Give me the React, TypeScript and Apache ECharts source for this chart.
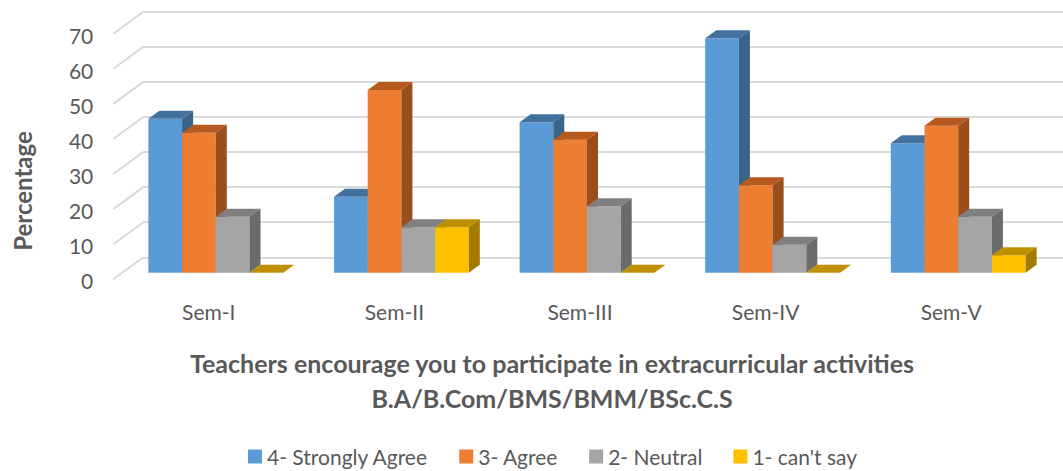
import React, { useEffect, useRef } from "react";
import * as echarts from "echarts";

// ---- data ----
const categories = ["Sem-I", "Sem-II", "Sem-III", "Sem-IV", "Sem-V"];
const stronglyAgree = [44, 21.7, 43, 67, 37];
const agree = [40, 52.2, 38, 25, 42];
const neutral = [16, 13, 19, 8, 16];
const cantSay = [0, 13, 0, 0, 5];
const seriesNames = ["4- Strongly Agree", "3- Agree", "2- Neutral", "1- can't say"];
const seriesValues = [stronglyAgree, agree, neutral, cantSay];
const yTicks = [0, 10, 20, 30, 40, 50, 60, 70];
const titleLines = [
  "Teachers encourage you to participate in extracurricular activities",
  "B.A/B.Com/BMS/BMM/BSc.C.S",
];
const yAxisTitle = "Percentage";

// ---- styles ----
const FRONT = ["#5B9BD5", "#ED7D31", "#A5A5A5", "#FFC000"];
const TOP = ["#41719C", "#B65A1F", "#7F7F7F", "#BF9000"];
const SIDE = ["#3A6489", "#9A4E1C", "#6B6B6B", "#A37B00"];
const TEXT = "#595959";
const GRID_LINE = "#D9D9D9";
const FONT = "Lato, 'Open Sans', sans-serif";
const DX = 11;
const DY = -8;
const BAR_FRAC = 0.1816;

export default function App() {
  const ref = useRef<HTMLDivElement>(null);
  useEffect(() => {
    if (!ref.current) return;
    const chart = echarts.init(ref.current, undefined, { renderer: "svg" });

    const barSeries = seriesValues.map((vals, k) => ({
      type: "custom",
      name: seriesNames[k],
      xAxisIndex: 0,
      yAxisIndex: 0,
      itemStyle: { color: FRONT[k] },
      encode: { x: 0, y: 1 },
      data: vals.map((v, i) => [i, v]),
      renderItem: (params: any, api: any) => {
        const ci = api.value(0);
        const v = api.value(1);
        const base = api.coord([ci, 0]);
        const top = api.coord([ci, v]);
        const band = api.size([1, 0])[0];
        const w = band * BAR_FRAC;
        const x = base[0] - 2 * w + k * w;
        const y0 = base[1];
        const y1 = top[1];
        return {
          type: "group",
          children: [
            {
              type: "rect",
              z2: k,
              shape: { x, y: y1, width: w, height: y0 - y1 },
              style: { fill: FRONT[k] },
            },
            {
              type: "polygon",
              z2: k,
              shape: { points: [[x, y1], [x + w, y1], [x + w + DX, y1 + DY], [x + DX, y1 + DY]] },
              style: { fill: TOP[k] },
            },
            {
              type: "polygon",
              z2: k,
              shape: { points: [[x + w, y1], [x + w + DX, y1 + DY], [x + w + DX, y0 + DY], [x + w, y0]] },
              style: { fill: SIDE[k] },
            },
          ],
        };
      },
    }));

    const option: any = {
      animation: false,
      color: FRONT,
      title: {
        text: titleLines.join("\n"),
        left: 552,
        top: 345,
        textAlign: "center",
        textVerticalAlign: "top",
        padding: 0,
        textStyle: {
          fontFamily: FONT,
          fontWeight: "bold",
          fontSize: 25,
          color: TEXT,
          lineHeight: 35,
        },
      },
      legend: {
        data: seriesNames,
        left: 248,
        top: 446,
        padding: 0,
        icon: "rect",
        itemWidth: 14,
        itemHeight: 14,
        itemGap: 31,
        textStyle: { fontFamily: FONT, fontSize: 21, color: TEXT },
      },
      grid: [
        { left: 123, right: 12, top: 27.7, height: 245 },
        { left: 143.3, right: 0, top: 11.7, height: 245.6 },
        { left: 113.3, width: 1, top: 35.8, height: 244.7 },
        { left: 116, right: 19, top: 271.7, height: 1 },
      ],
      xAxis: [
        { type: "category", data: categories, gridIndex: 0, show: false },
        { type: "value", min: 0, max: 1, gridIndex: 1, show: false },
        { type: "value", min: 0, max: 1, gridIndex: 2, show: false },
        {
          type: "category",
          data: categories,
          gridIndex: 3,
          axisLine: { show: false },
          axisTick: { show: false },
          splitLine: { show: false },
          axisLabel: { margin: 28, fontFamily: FONT, fontSize: 21, color: TEXT },
        },
      ],
      yAxis: [
        { type: "value", min: 0, max: 70, gridIndex: 0, show: false },
        {
          type: "value",
          min: 0,
          max: 70,
          interval: 10,
          gridIndex: 1,
          axisLine: { show: false },
          axisTick: { show: false },
          axisLabel: { show: false },
          splitLine: { show: true, lineStyle: { color: GRID_LINE, width: 2 } },
        },
        {
          type: "value",
          min: 0,
          max: 70,
          interval: 10,
          gridIndex: 2,
          axisLine: { show: false },
          axisTick: { show: false },
          splitLine: { show: false },
          axisLabel: { margin: 20, fontFamily: FONT, fontSize: 21, color: TEXT },
        },
        { type: "value", gridIndex: 3, show: false },
      ],
      graphic: [
        {
          type: "text",
          x: 22,
          y: 191,
          rotation: Math.PI / 2,
          style: {
            text: yAxisTitle,
            align: "center",
            verticalAlign: "middle",
            textAlign: "center",
            textVerticalAlign: "middle",
            fill: TEXT,
            font: `bold 24px ${FONT}`,
          },
        },
      ],
      series: [
        {
          type: "custom",
          name: "wall-diagonals",
          xAxisIndex: 1,
          yAxisIndex: 1,
          silent: true,
          z: 1,
          encode: { x: 0, y: 1 },
          data: yTicks.map((v) => [0, v]),
          renderItem: (params: any, api: any) => {
            const p = api.coord([0, api.value(1)]);
            return {
              type: "line",
              shape: { x1: p[0], y1: p[1], x2: p[0] - 30, y2: p[1] + 22 },
              style: { stroke: GRID_LINE, lineWidth: 2 },
            };
          },
        },
        ...barSeries,
      ],
    };
    chart.setOption(option);
    return () => chart.dispose();
  }, []);
  return <div ref={ref} style={{ width: 1063, height: 471, position: "absolute", left: 0, top: 0 }} />;
}
